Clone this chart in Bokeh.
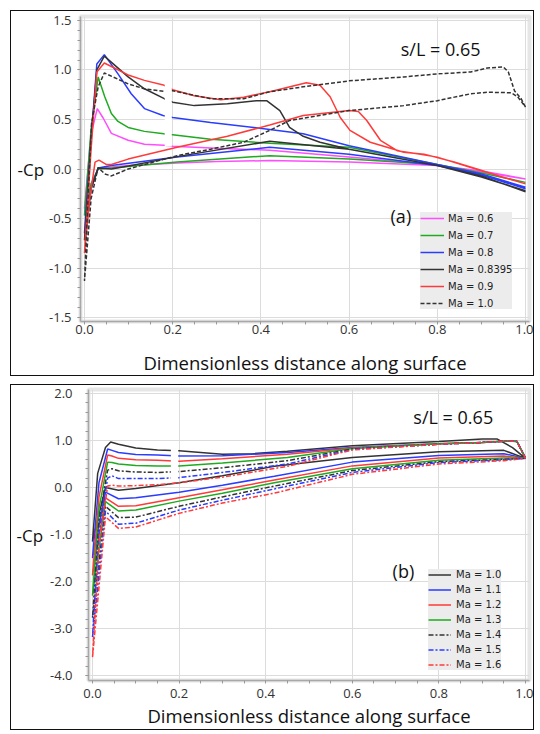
from bokeh.plotting import figure
from bokeh.models import Range1d, Label, Legend, LegendItem, FixedTicker, PrintfTickFormatter, BoxAnnotation
from bokeh.embed import file_html
from bokeh.resources import INLINE

# ---------------- Panel (a): subsonic / transonic ----------------
a_names = ["Ma = 0.6", "Ma = 0.7", "Ma = 0.8", "Ma = 0.8395", "Ma = 0.9", "Ma = 1.0"]

a06_up_s = [0, 0.015, 0.029, 0.043, 0.061, 0.099, 0.136, 0.18, 0.2, 0.3, 0.42, 0.6, 0.8, 0.9, 1.0]
a06_up_cp = [-0.4, 0.35, 0.61, 0.51, 0.36, 0.29, 0.25, 0.24, 0.23, 0.21, 0.19, 0.12, 0.04, -0.03, -0.10]
a06_lo_s = [0, 0.015, 0.031, 0.061, 0.1, 0.21, 0.3, 0.42, 0.6, 0.8, 0.9, 1.0]
a06_lo_cp = [-0.4, -0.15, 0.0, 0.02, 0.035, 0.06, 0.075, 0.085, 0.07, 0.035, -0.02, -0.10]

a07_up_s = [0, 0.015, 0.031, 0.046, 0.061, 0.076, 0.099, 0.136, 0.18, 0.2, 0.286, 0.42, 0.6, 0.8, 0.9, 1.0]
a07_up_cp = [-0.47, 0.4, 0.93, 0.73, 0.56, 0.48, 0.42, 0.38, 0.355, 0.345, 0.30, 0.26, 0.22, 0.045, -0.04, -0.135]
a07_lo_s = [0, 0.015, 0.031, 0.061, 0.21, 0.42, 0.6, 0.8, 0.9, 1.0]
a07_lo_cp = [-0.47, -0.15, 0.0, 0.01, 0.07, 0.135, 0.10, 0.045, -0.04, -0.135]

a08_up_s = [0, 0.015, 0.028, 0.045, 0.076, 0.106, 0.136, 0.178, 0.2, 0.286, 0.42, 0.496, 0.6, 0.8, 0.9, 1.0]
a08_up_cp = [-0.65, 0.3, 1.06, 1.155, 0.96, 0.76, 0.61, 0.54, 0.52, 0.47, 0.40, 0.355, 0.235, 0.045, -0.05, -0.185]
a08_lo_s = [0, 0.015, 0.031, 0.061, 0.21, 0.42, 0.6, 0.8, 0.9, 1.0]
a08_lo_cp = [-0.65, -0.2, 0.01, 0.035, 0.12, 0.22, 0.15, 0.035, -0.06, -0.2]

a084_up_s = [0, 0.015, 0.028, 0.045, 0.099, 0.136, 0.181, 0.2, 0.249, 0.324, 0.39, 0.413, 0.443, 0.465,
             0.496, 0.534, 0.6, 0.8, 0.9, 1.0]
a084_up_cp = [-0.72, 0.3, 1.0, 1.14, 0.93, 0.81, 0.71, 0.675, 0.64, 0.66, 0.69, 0.69, 0.59, 0.42,
              0.33, 0.27, 0.2, 0.035, -0.07, -0.23]
a084_lo_s = [0, 0.015, 0.031, 0.061, 0.1, 0.21, 0.42, 0.6, 0.8, 0.9, 1.0]
a084_lo_cp = [-0.72, -0.2, 0.01, 0.0, 0.03, 0.125, 0.28, 0.2, 0.035, -0.08, -0.22]

a09_up_s = [0, 0.015, 0.028, 0.045, 0.099, 0.136, 0.181, 0.2, 0.249, 0.309, 0.361, 0.42, 0.503, 0.534,
            0.557, 0.58, 0.602, 0.648, 0.724, 0.77, 0.838, 0.89, 0.95, 1.0]
a09_up_cp = [-0.85, 0.2, 0.98, 1.07, 0.95, 0.895, 0.845, 0.80, 0.74, 0.70, 0.725, 0.78, 0.87, 0.845,
             0.73, 0.52, 0.39, 0.27, 0.17, 0.15, 0.07, 0.0, -0.085, -0.15]
a09_lo_s = [0, 0.012, 0.024, 0.033, 0.05, 0.061, 0.099, 0.21, 0.324, 0.42, 0.496, 0.6, 0.621, 0.64,
            0.671, 0.709, 0.762, 0.8, 0.876, 1.0]
a09_lo_cp = [-0.85, -0.3, 0.07, 0.09, 0.045, 0.045, 0.10, 0.22, 0.33, 0.445, 0.54, 0.59, 0.58, 0.49,
             0.29, 0.185, 0.15, 0.12, 0.015, -0.15]

a10_up_s = [0, 0.008, 0.016, 0.031, 0.045, 0.099, 0.136, 0.181, 0.2, 0.286, 0.361, 0.42, 0.496, 0.6,
            0.724, 0.8, 0.876, 0.914, 0.95, 0.961, 0.975, 0.99, 1.0]
a10_up_cp = [-1.13, -0.3, 0.46, 0.83, 0.97, 0.86, 0.81, 0.785, 0.79, 0.71, 0.71, 0.78, 0.83, 0.89,
             0.93, 0.96, 0.98, 1.02, 1.03, 0.98, 0.79, 0.71, 0.625]
a10_lo_s = [0, 0.015, 0.031, 0.046, 0.061, 0.099, 0.21, 0.286, 0.361, 0.42, 0.465, 0.6, 0.724, 0.8,
            0.876, 0.914, 0.967, 0.982, 1.0]
a10_lo_cp = [-1.13, -0.3, 0.015, -0.05, -0.07, 0.0, 0.135, 0.2, 0.27, 0.39, 0.49, 0.59, 0.64, 0.69,
             0.76, 0.775, 0.77, 0.73, 0.625]

# ---------------- Panel (b): supersonic ----------------
b_names = ["Ma = 1.0", "Ma = 1.1", "Ma = 1.2", "Ma = 1.3", "Ma = 1.4", "Ma = 1.5", "Ma = 1.6"]

b10_up_s = [0, 0.012, 0.03, 0.042, 0.06, 0.1, 0.15, 0.2, 0.3, 0.37, 0.45, 0.6, 0.8, 0.9, 0.935, 0.97, 1.0]
b10_up_cp = [-1.15, 0.3, 0.85, 0.97, 0.92, 0.84, 0.80, 0.78, 0.71, 0.72, 0.77, 0.89, 0.98, 1.03, 1.03, 0.85, 0.62]

b_up_s = [0, 0.015, 0.035, 0.045, 0.06, 0.1, 0.15, 0.2, 0.3, 0.45, 0.6, 0.8, 0.9, 0.96, 0.98, 1.0]
b11_up_cp = [-1.5, 0.1, 0.82, 0.79, 0.745, 0.70, 0.69, 0.67, 0.675, 0.745, 0.85, 0.93, 0.96, 0.99, 0.99, 0.63]
b12_up_cp = [-1.87, -0.2, 0.69, 0.67, 0.62, 0.59, 0.58, 0.56, 0.61, 0.71, 0.84, 0.93, 0.96, 0.99, 0.98, 0.63]
b13_up_cp = [-2.3, -0.45, 0.54, 0.53, 0.50, 0.47, 0.46, 0.46, 0.52, 0.64, 0.83, 0.93, 0.96, 0.99, 0.98, 0.62]
b14_up_cp = [-2.77, -0.7, 0.37, 0.40, 0.355, 0.33, 0.32, 0.34, 0.42, 0.57, 0.82, 0.92, 0.96, 0.99, 0.98, 0.62]
b15_up_cp = [-3.19, -0.95, 0.2, 0.25, 0.19, 0.19, 0.19, 0.21, 0.32, 0.50, 0.81, 0.92, 0.96, 0.99, 0.98, 0.62]
b16_up_cp = [-3.62, -1.25, 0.03, 0.05, 0.03, 0.04, 0.06, 0.1, 0.22, 0.45, 0.8, 0.92, 0.96, 0.99, 0.98, 0.62]

b_lo_s = [0, 0.03, 0.06, 0.1, 0.2, 0.3, 0.42, 0.6, 0.8, 0.95, 1.0]
b10_lo_cp = [-1.15, 0.0, -0.06, -0.02, 0.10, 0.25, 0.45, 0.64, 0.76, 0.79, 0.62]
b11_lo_cp = [-1.5, -0.1, -0.24, -0.22, -0.10, 0.05, 0.24, 0.54, 0.68, 0.72, 0.62]
b12_lo_cp = [-1.87, -0.22, -0.40, -0.39, -0.22, -0.05, 0.16, 0.46, 0.63, 0.67, 0.62]
b13_lo_cp = [-2.3, -0.3, -0.5, -0.48, -0.29, -0.12, 0.10, 0.40, 0.58, 0.63, 0.62]
b14_lo_cp = [-2.77, -0.4, -0.64, -0.63, -0.4, -0.2, 0.03, 0.36, 0.55, 0.6, 0.62]
b15_lo_cp = [-3.19, -0.5, -0.78, -0.76, -0.48, -0.27, -0.03, 0.32, 0.53, 0.59, 0.62]
b16_lo_cp = [-3.62, -0.62, -0.87, -0.84, -0.55, -0.33, -0.12, 0.28, 0.5, 0.57, 0.62]

x_ticks = [0.0, 0.2, 0.4, 0.6, 0.8, 1.0]
a_y_ticks = [-1.5, -1.0, -0.5, 0.0, 0.5, 1.0, 1.5]
b_y_ticks = [-4.0, -3.0, -2.0, -1.0, 0.0, 1.0, 2.0]

FONT = "Open Sans"
LEG_FONT = "DejaVu Sans"


def loop(us, ucp, ls, lcp):
    return list(us[::-1]) + list(ls), list(ucp[::-1]) + list(lcp)


def style(p, y_ticks, y_standoff, cp_standoff):
    p.xaxis.ticker = FixedTicker(ticks=x_ticks, minor_ticks=[i * 0.05 for i in range(21)])
    p.yaxis.ticker = FixedTicker(ticks=y_ticks,
                                 minor_ticks=[y_ticks[0] + i * (y_ticks[1] - y_ticks[0]) / 5
                                              for i in range(5 * (len(y_ticks) - 1) + 1)])
    for ax in (p.xaxis[0], p.yaxis[0]):
        ax.formatter = PrintfTickFormatter(format="%.1f")
        ax.axis_line_color = "#a8a8a8"
        ax.axis_line_width = 1.5
        ax.major_tick_line_color = "#999999"
        ax.minor_tick_line_color = "#999999"
        ax.major_tick_in = 0
        ax.minor_tick_in = 0
        ax.minor_tick_out = 3
        ax.major_label_text_font = FONT
        ax.major_label_text_font_size = "13px"
        ax.major_label_text_color = "#333333"
        ax.axis_label_text_font = FONT
        ax.axis_label_text_font_style = "normal"
        ax.axis_label_text_color = "#111111"
    p.xaxis.axis_label = "Dimensionless distance along surface"
    p.xaxis.axis_label_text_font_size = "18.5px"
    p.xaxis.major_tick_out = 2
    p.yaxis.major_tick_out = 3
    p.yaxis.major_label_standoff = y_standoff
    p.yaxis.axis_label = "-Cp"
    p.yaxis.axis_label_orientation = "horizontal"
    p.yaxis.axis_label_text_font_size = "17px"
    p.yaxis.axis_label_standoff = cp_standoff
    p.grid.grid_line_color = "#dcdcdc"
    p.grid.grid_line_width = 1
    p.outline_line_color = "#e6e6e6"
    p.outline_line_width = 4
    p.background_fill_color = "white"
    p.border_fill_color = "white"


# ---------------- figure (a) ----------------
pa = figure(width=524, height=366, output_backend="svg", toolbar_location=None,
            x_range=Range1d(-0.009, 1.009), y_range=Range1d(-1.54, 1.54),
            min_border_left=69, min_border_right=6, min_border_top=5, min_border_bottom=56)
style(pa, a_y_ticks, 6, 2)
pa.xaxis.major_label_standoff = 0
pa.xaxis.axis_label_standoff = 13

a_series = [
    (a06_up_s, a06_up_cp, a06_lo_s, a06_lo_cp, "#ff4dff", "solid"),
    (a07_up_s, a07_up_cp, a07_lo_s, a07_lo_cp, "#1faa1f", "solid"),
    (a08_up_s, a08_up_cp, a08_lo_s, a08_lo_cp, "#2a3cff", "solid"),
    (a084_up_s, a084_up_cp, a084_lo_s, a084_lo_cp, "#333333", "solid"),
    (a09_up_s, a09_up_cp, a09_lo_s, a09_lo_cp, "#ff3a3a", "solid"),
    (a10_up_s, a10_up_cp, a10_lo_s, a10_lo_cp, "#333333", "4 2"),
]
a_items = []
for name, (us, ucp, ls, lcp, col, dash) in zip(a_names, a_series):
    xs, ys = loop(us, ucp, ls, lcp)
    r = pa.line(xs, ys, line_color=col, line_width=1.5, line_dash=dash)
    a_items.append(LegendItem(label=name, renderers=[r]))

# white break across the suction-side curves, as in the original figure
pa.add_layout(BoxAnnotation(left=0.182, right=0.198, bottom=0.228, top=0.88,
                            fill_color="white", fill_alpha=1.0, line_alpha=0))

leg_a = Legend(items=a_items, location=(340, 12), background_fill_color="#ececec",
               background_fill_alpha=1.0, border_line_color=None,
               label_text_font=LEG_FONT, label_text_font_size="10px", label_text_color="#222222",
               glyph_width=24, glyph_height=12, label_height=12, spacing=5, padding=5,
               label_standoff=4, margin=0)
pa.add_layout(leg_a)

pa.add_layout(Label(x=0.717, y=1.21, text="s/L = 0.65", text_font=FONT, text_font_size="18px",
                    text_baseline="middle", text_color="#111111"))
pa.add_layout(Label(x=0.694, y=-0.475, text="(a)", text_font=FONT, text_font_size="18px",
                    text_baseline="middle", text_color="#111111"))

# ---------------- figure (b) ----------------
pb = figure(width=524, height=346, output_backend="svg", toolbar_location=None,
            x_range=Range1d(-0.0092, 1.0092), y_range=Range1d(-4.106, 2.085),
            min_border_left=77, min_border_right=6, min_border_top=4, min_border_bottom=51)
style(pb, b_y_ticks, 13, 4)
pb.xaxis.major_label_standoff = 5
pb.xaxis.axis_label_standoff = 2

b_series = [
    (b10_up_s, b10_up_cp, b_lo_s, b10_lo_cp, "#333333", "solid"),
    (b_up_s, b11_up_cp, b_lo_s, b11_lo_cp, "#2a3cff", "solid"),
    (b_up_s, b12_up_cp, b_lo_s, b12_lo_cp, "#ff3a3a", "solid"),
    (b_up_s, b13_up_cp, b_lo_s, b13_lo_cp, "#1faa1f", "solid"),
    (b_up_s, b14_up_cp, b_lo_s, b14_lo_cp, "#333333", "5 2 2 2"),
    (b_up_s, b15_up_cp, b_lo_s, b15_lo_cp, "#2a3cff", "5 2 2 2"),
    (b_up_s, b16_up_cp, b_lo_s, b16_lo_cp, "#ff3a3a", "5 2 2 2"),
]
b_items = []
for name, (us, ucp, ls, lcp, col, dash) in zip(b_names, b_series):
    xs, ys = loop(us, ucp, ls, lcp)
    r = pb.line(xs, ys, line_color=col, line_width=1.5, line_dash=dash)
    b_items.append(LegendItem(label=name, renderers=[r]))

pb.add_layout(BoxAnnotation(left=0.181, right=0.198, bottom=0.14, top=0.86,
                            fill_color="white", fill_alpha=1.0, line_alpha=0))

leg_b = Legend(items=b_items, location=(340, 10), background_fill_color="#ececec",
               background_fill_alpha=1.0, border_line_color=None,
               label_text_font=LEG_FONT, label_text_font_size="10px", label_text_color="#222222",
               glyph_width=23, glyph_height=11, label_height=11, spacing=4, padding=5,
               label_standoff=5, margin=0)
pb.add_layout(leg_b)

pb.add_layout(Label(x=0.741, y=1.49, text="s/L = 0.65", text_font=FONT, text_font_size="18px",
                    text_baseline="middle", text_color="#111111"))
pb.add_layout(Label(x=0.693, y=-1.77, text="(b)", text_font=FONT, text_font_size="18px",
                    text_baseline="middle", text_color="#111111"))

pa.styles = {"border": "1px solid #111111"}
pb.styles = {"border": "1px solid #111111"}
pa.margin = (10, 0, 0, 10)
pb.margin = (8, 0, 0, 10)

open("out.html", "w").write(file_html([pa, pb], INLINE))
